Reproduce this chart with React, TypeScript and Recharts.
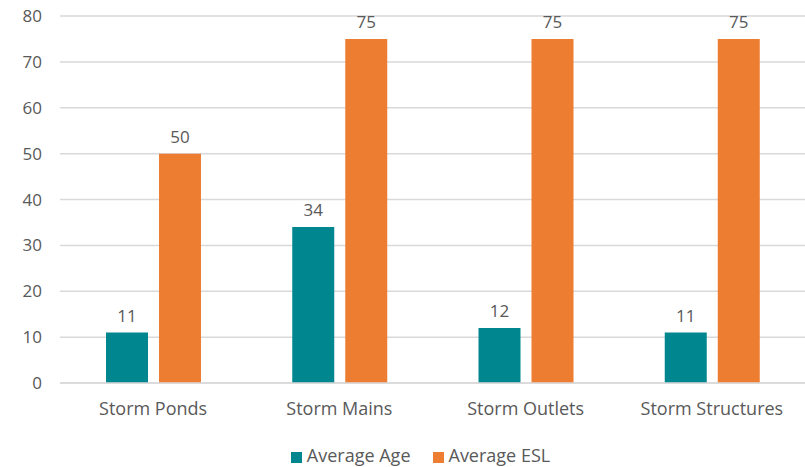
import { BarChart, Bar, XAxis, YAxis, CartesianGrid, Legend, LabelList } from 'recharts';

const categories = ['Storm Ponds', 'Storm Mains', 'Storm Outlets', 'Storm Structures'];
const averageAge = [11, 34, 12, 11];
const averageEsl = [50, 75, 75, 75];
const yTicks = [0, 10, 20, 30, 40, 50, 60, 70, 80];

const data = categories.map((name, i) => ({
  name,
  age: averageAge[i],
  esl: averageEsl[i],
}));

const TEXT = '#595959';
const FONT = '"Open Sans", "Noto Sans", sans-serif';
const FS = 17;

export default function App() {
  return (
    <div style={{ position: 'absolute', top: 0, left: 0, width: 805, height: 467, background: '#fff', fontFamily: FONT }}>
      <BarChart
        width={805}
        height={467}
        data={data}
        margin={{ top: 16, right: 0, bottom: 14, left: 0 }}
        barSize={42}
        barGap={11}
      >
        <CartesianGrid vertical={false} stroke="#D9D9D9" strokeWidth={1.5} />
        <XAxis
          dataKey="name"
          height={44}
          tickLine={false}
          axisLine={{ stroke: '#D9D9D9', strokeWidth: 1.5 }}
          tick={{ fill: TEXT, fontSize: 18, fontFamily: FONT }}
          tickMargin={13}
        />
        <YAxis
          width={60}
          domain={[0, 80]}
          ticks={yTicks}
          axisLine={false}
          tickLine={false}
          tickSize={0}
          tickMargin={18}
          tick={{ fill: TEXT, fontSize: FS, fontFamily: FONT }}
        />
        <Legend
          verticalAlign="bottom"
          iconType="square"
          iconSize={11}
          wrapperStyle={{ top: 442, bottom: 'auto', left: 29, height: 26, lineHeight: '26px' }}
          formatter={(value: string) => (
            <span style={{ color: TEXT, fontSize: 18, fontFamily: FONT, marginLeft: 1, marginRight: 12 }}>{value}</span>
          )}
        />
        <Bar dataKey="age" name="Average Age" fill="#00868F" isAnimationActive={false}>
          <LabelList dataKey="age" position="top" offset={11} fill={TEXT} fontSize={FS} fontFamily={FONT} />
        </Bar>
        <Bar dataKey="esl" name="Average ESL" fill="#ED7D31" isAnimationActive={false}>
          <LabelList dataKey="esl" position="top" offset={11} fill={TEXT} fontSize={FS} fontFamily={FONT} />
        </Bar>
      </BarChart>
    </div>
  );
}
